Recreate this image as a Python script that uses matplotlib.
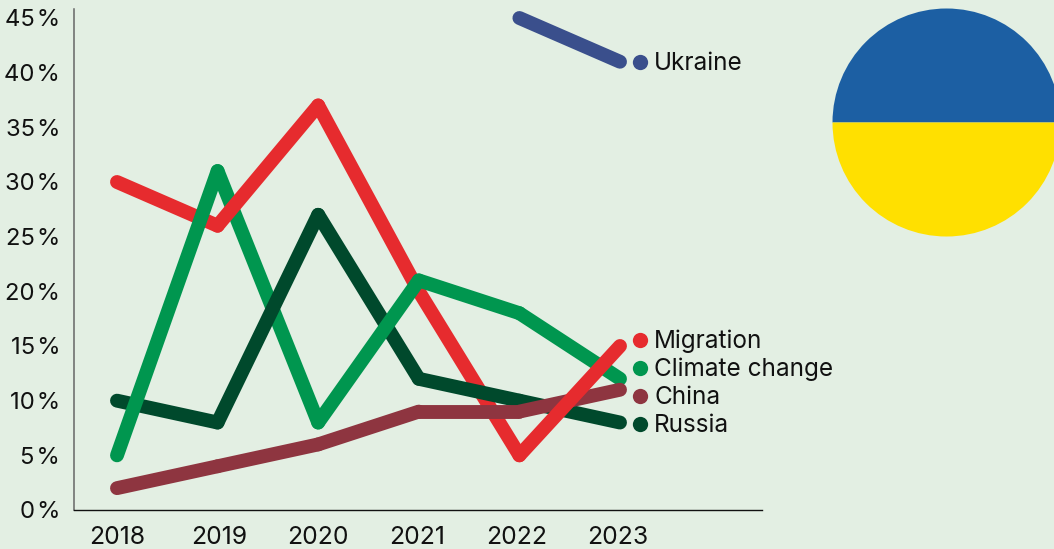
import matplotlib
matplotlib.use('Agg')
import matplotlib.pyplot as plt
from matplotlib.patches import Wedge
from matplotlib.transforms import ScaledTranslation

years = [2018, 2019, 2020, 2021, 2022, 2023]
migration = [30, 26, 37, 20, 5, 15]
climate = [5, 31, 8, 21, 18, 12]
russia = [10, 8, 27, 12, 10, 8]
china = [2, 4, 6, 9, 9, 11]
ukraine_years = [2022, 2023]
ukraine = [45, 41]
y_ticks = [0, 5, 10, 15, 20, 25, 30, 35, 40, 45]

bg = '#e3efe3'
plt.rcParams['font.family'] = ['Inter', 'DejaVu Sans']

W, H = 1054, 549
fig = plt.figure(figsize=(W / 100, H / 100), dpi=100, facecolor=bg)
ax = fig.add_axes([74 / W, 1 - 510 / H, (762 - 74) / W, (510 - 9) / H], facecolor=bg)

# x: 2018 at 117px, 2023 at 620px
px_per_year = (620 - 117) / 5
ax.set_xlim(2018 - (117 - 74) / px_per_year, 2018 + (762 - 117) / px_per_year)
# y: 0 at 510px, 45 at 18px
px_per_pct = (510 - 18) / 45
ax.set_ylim(0, (510 - 9) / px_per_pct)

# the lines weave over each other, so each segment gets its own layer
series = [
    (ukraine_years, ukraine, '#3a4f8c', 'Ukraine', [2]),
    (years, russia, '#00492c', 'Russia', [3, 4, 4, 4, 3]),
    (years, china, '#8e3540', 'China', [2, 2, 2, 5, 5]),
    (years, migration, '#e62b2e', 'Migration', [3, 4, 3, 3, 6]),
    (years, climate, '#00964f', 'Climate change', [5, 3, 5, 5, 3]),
]
for xs, ys, col, name, layers in series:
    for i, z in enumerate(layers):
        ax.plot(xs[i:i + 2], ys[i:i + 2], color=col, lw=10, solid_capstyle='round', zorder=z, clip_on=False)

# legend dots and labels, placed next to the last points
label_y = {'Ukraine': 41, 'Migration': 15.55, 'Climate change': 12.99, 'China': 10.43, 'Russia': 7.87}
text_shift = ScaledTranslation(0, -8.5 / 100, fig.dpi_scale_trans)
for xs, ys, col, name, layers in series:
    ax.plot([2023.2], [label_y[name]], 'o', color=col, ms=11, clip_on=False, mew=0)
    ax.text(2023.34, label_y[name], name, color='#111111', fontsize=17.5, va='baseline', ha='left',
            clip_on=False, transform=ax.transData + text_shift)

for s in ['top', 'right']:
    ax.spines[s].set_visible(False)
ax.spines['left'].set_color('#666666')
ax.spines['left'].set_linewidth(1.1)
ax.spines['bottom'].set_color('#111111')
ax.spines['bottom'].set_linewidth(1)

ax.set_xticks(years)
ax.set_xticklabels([str(y) for y in years])
ax.set_yticks(y_ticks)
ax.set_yticklabels([f'{y}\u200a%' for y in y_ticks])
ax.tick_params(axis='x', length=0, labelsize=17.8, labelcolor='#111111', pad=11.5)
ax.tick_params(axis='y', length=0, labelsize=17.2, labelcolor='#111111', pad=10)

# year labels are not quite under their points in the original
x_nudge = [0, 2, 0, -2, -3, -2]
for lab, dx in zip(ax.get_xticklabels(), x_nudge):
    lab.set_transform(lab.get_transform() + ScaledTranslation(dx / 100, 0, fig.dpi_scale_trans))

# Ukraine flag circle, cut by the right edge
flag = fig.add_axes([0, 0, 1, 1], facecolor='none')
flag.set_xlim(0, W)
flag.set_ylim(H, 0)
flag.axis('off')
flag.add_patch(Wedge((946.5, 122.5), 114, 180, 360, color='#1c5fa3', lw=0))
flag.add_patch(Wedge((946.5, 122.5), 114, 0, 180, color='#ffe000', lw=0))

fig.savefig('out.png', dpi=100, facecolor=bg)
